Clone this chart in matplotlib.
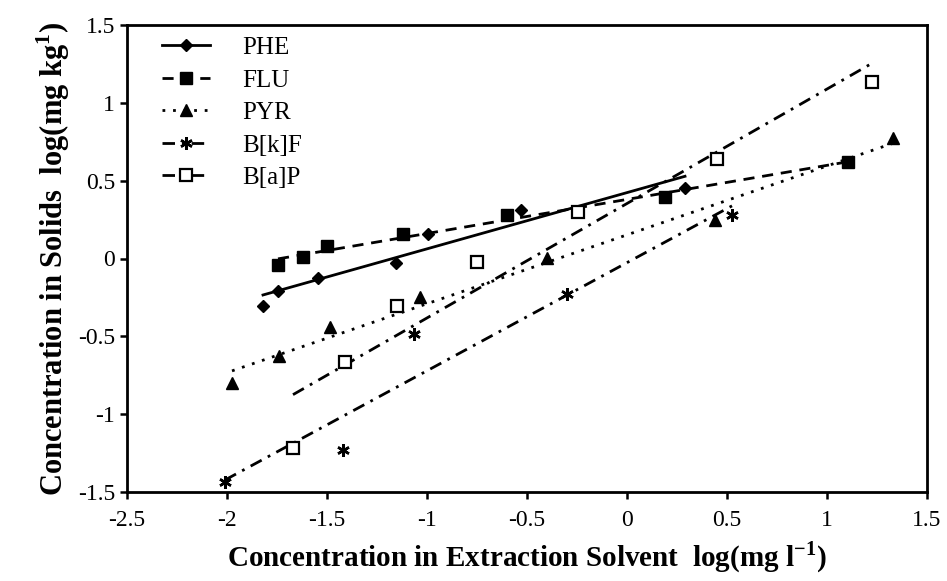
import numpy as np
import matplotlib
matplotlib.use("Agg")
import matplotlib.pyplot as plt

plt.rcParams['font.family'] = ['Liberation Serif', 'DejaVu Serif']
plt.rcParams['mathtext.fontset'] = 'custom'
plt.rcParams['mathtext.rm'] = 'Liberation Serif'
plt.rcParams['mathtext.bf'] = 'Liberation Serif:bold'

# ---- data ----
phe_x = [-1.82, -1.745, -1.545, -1.155, -0.995, -0.53, 0.29]
phe_y = [-0.305, -0.209, -0.125, -0.029, 0.157, 0.311, 0.453]

flu_x = [-1.745, -1.62, -1.50, -1.12, -0.60, 0.19, 1.105]
flu_y = [-0.042, 0.01, 0.08, 0.157, 0.279, 0.395, 0.62]

pyr_x = [-1.975, -1.74, -1.485, -1.035, -0.40, 0.44, 1.33]
pyr_y = [-0.80, -0.626, -0.44, -0.247, 0.003, 0.247, 0.774]

bkf_x = [-2.01, -1.42, -1.065, -0.30, 0.525]
bkf_y = [-1.435, -1.23, -0.485, -0.228, 0.279]

bap_x = [-1.67, -1.41, -1.15, -0.75, -0.245, 0.45, 1.225]
bap_y = [-1.217, -0.665, -0.305, -0.022, 0.299, 0.639, 1.134]

names = ['PHE', 'FLU', 'PYR', 'B[k]F', 'B[a]P']
xticks = [-2.5, -2, -1.5, -1, -0.5, 0, 0.5, 1, 1.5]
yticks = [-1.5, -1, -0.5, 0, 0.5, 1, 1.5]

fig = plt.figure(figsize=(9.47, 5.81), dpi=100)
ax = fig.add_axes([127/947, 1-492/581, 800/947, 467/581])

LW = 2.0
series = [
    (phe_x, phe_y, dict(marker='D', ms=6.5, mfc='black', ls='-')),
    (flu_x, flu_y, dict(marker='s', ms=8, mfc='black', ls=(0, (4, 2.8)))),
    (pyr_x, pyr_y, dict(marker='^', ms=8.5, mfc='black', ls=(0, (1.0, 2.8)))),
    (bkf_x, bkf_y, dict(marker=(6, 2, 0), ms=9, mfc='black', mew=1.8, ls=(0, (4.5, 2.5, 1.0, 2.5)))),
    (bap_x, bap_y, dict(marker='s', ms=8, mfc='white', mew=1.6, ls=(0, (4.5, 2.5, 1.0, 2.5)))),
]

handles = []
for (xs, ys, st), name in zip(series, names):
    xs = np.asarray(xs); ys = np.asarray(ys)
    m, b = np.polyfit(xs, ys, 1)
    xl = np.array([xs.min(), xs.max()])
    ax.plot(xl, m*xl + b, color='black', lw=LW, ls=st['ls'])
    ax.plot(xs, ys, ls='none', color='black', marker=st['marker'], ms=st['ms'],
            mfc=st['mfc'], mec='black', mew=st.get('mew', 1.0))
    h, = ax.plot([], [], color='black', lw=LW, ls=st['ls'], marker=st['marker'],
                 ms=st['ms'], mfc=st['mfc'], mec='black', mew=st.get('mew', 1.0))
    handles.append(h)

ax.set_xlim(-2.5, 1.5)
ax.set_ylim(-1.5, 1.5)
ax.set_xticks(xticks)
ax.set_yticks(yticks)
ax.set_xticklabels([f'{t:g}' for t in xticks])
ax.set_yticklabels([f'{t:g}' for t in yticks])
ax.tick_params(direction='out', length=5, width=1.8, labelsize=17, top=False, right=False)
ax.tick_params(axis='x', pad=8)
for s in ax.spines.values():
    s.set_linewidth(2.0)

ax.set_xlabel(r'Concentration in Extraction Solvent  log(mg l$^{\mathbf{-1}}$)',
              fontsize=21, fontweight='bold', labelpad=6)
ax.set_ylabel(r'Concentration in Solids  log(mg kg$^{\mathbf{1}}$)',
              fontsize=22, fontweight='bold', labelpad=4)

ax.legend(handles, names, loc='upper left', bbox_to_anchor=(0.044, 0.975),
          frameon=False, fontsize=18, handlelength=1.9, handletextpad=1.3,
          labelspacing=0.4, borderpad=0, borderaxespad=0)

fig.savefig('out.png', dpi=100)
